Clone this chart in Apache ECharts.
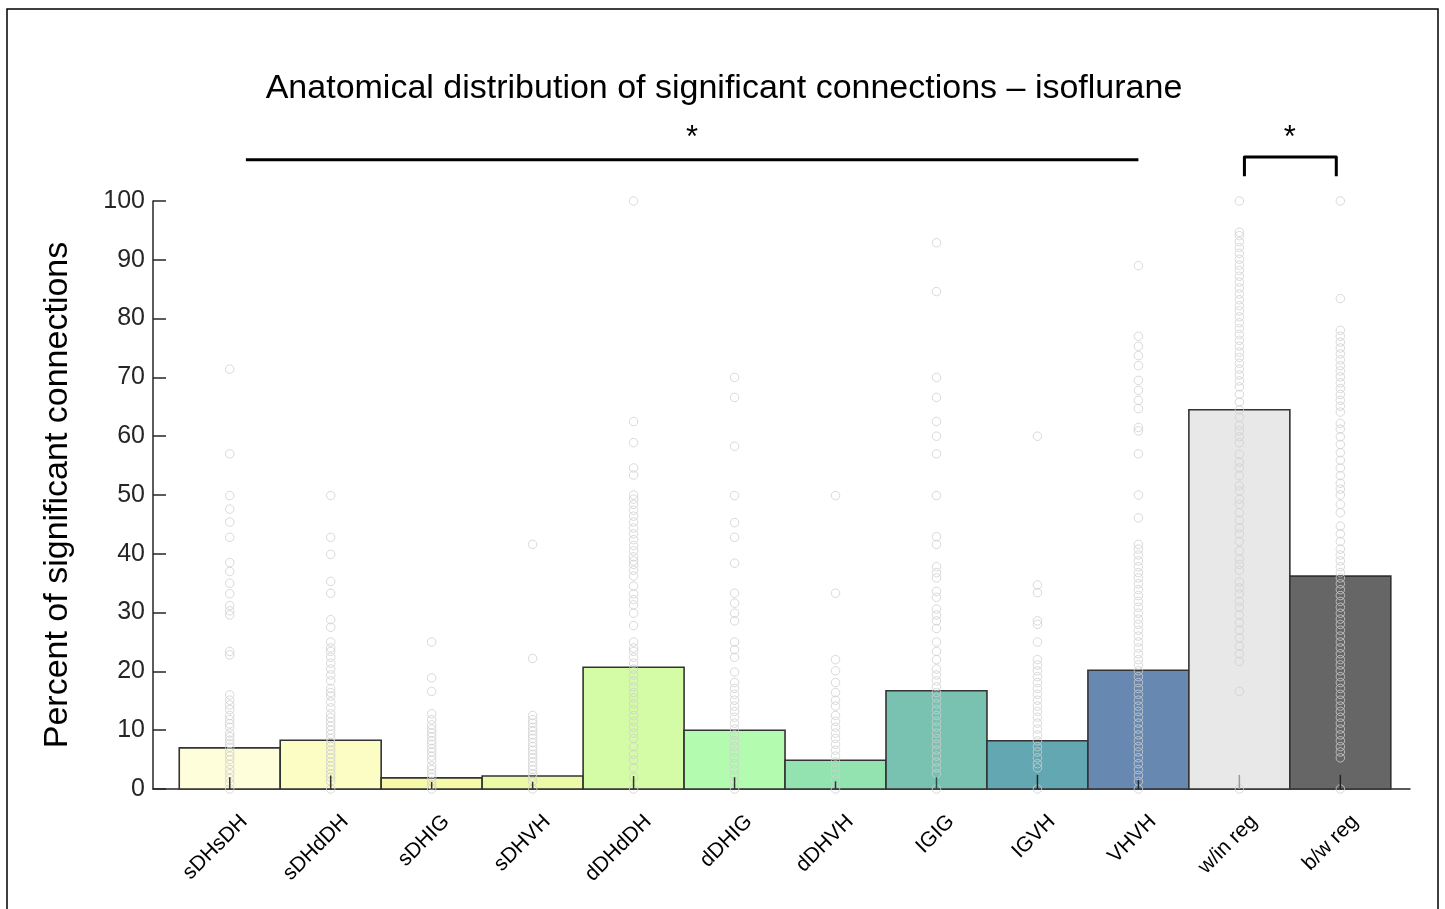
<!DOCTYPE html>
<html><head><meta charset="utf-8">
<script src="https://cdn.jsdelivr.net/npm/echarts@6/dist/echarts.min.js"></script>
<style>html,body{margin:0;padding:0;background:#fff}#c{width:1445px;height:909px}</style>
</head><body><div id="c"></div>
<script>
const categories = ['sDHsDH','sDHdDH','sDHIG','sDHVH','dDHdDH','dDHIG','dDHVH','IGIG','IGVH','VHVH','w/in reg','b/w reg'];
const barValues = [7.0, 8.3, 1.9, 2.2, 20.7, 10.0, 4.9, 16.7, 8.2, 20.2, 64.5, 36.2];
const barColors = ['#FEFEDB','#FCFDC4','#F6FAA8','#ECF9A6','#D4FCA7','#B3FBAF','#93E3B0','#79C2B1','#62A7B1','#6789B1','#E8E8E8','#666666'];
const errHigh = [2.0, 2.3, 1.2, 1.2, 2.2, 2.0, 1.3, 2.0, 2.4, 1.5, 2.4, 2.4];
const errColors = ['#333','#333','#333','#333','#333','#333','#333','#2d4f4a','#222','#222','#999','#222'];

const pts_sDHsDH = [71.4,57.0,49.9,47.6,45.4,42.8,38.5,37.0,35.0,33.2,31.2,30.3,29.6,23.4,22.8,16.0,15.1,14.3,13.5,12.5,11.8,11.1,10.5,9.5,8.9,8.3,7.7,7.1,6.3,5.6,5.0,4.2,3.3,2.6,1.8,1.0,0];
const pts_sDHdDH = [49.9,42.8,39.9,35.3,33.3,28.8,27.5,25.0,24.0,23.4,22.4,21.4,20.4,19.4,18.4,17.1,16.4,15.8,14.8,13.8,12.8,12.1,11.4,10.7,10.0,9.3,8.6,7.9,7.3,6.6,5.9,5.3,4.6,3.9,3.3,2.6,2.0,1.3,0];
const pts_sDHIG = [25.0,18.9,16.6,12.8,11.8,10.9,10.2,9.5,8.9,8.2,7.6,6.9,6.3,5.6,4.9,3.9,3.3,2.6,2.0,1.3,0.7,0];
const pts_sDHVH = [41.6,22.2,12.5,11.8,11.2,10.5,9.9,9.2,8.6,7.9,7.2,6.6,5.9,5.3,4.6,3.9,3.3,2.6,2.0,1.3,0];
const pts_dDHdDH = [100,62.5,58.9,54.6,53.4,50.0,49.3,48.4,47.4,46.4,45.4,44.4,43.4,42.4,41.4,40.5,39.5,38.8,38.2,37.2,36.2,34.5,33.2,32.2,31.3,29.9,27.8,25.0,24.0,23.4,22.4,21.4,20.4,19.4,18.4,17.4,16.4,15.5,14.5,13.5,12.5,11.5,10.5,9.5,8.6,7.2,5.9,4.9,3.6,2.0,0];
const pts_dDHIG = [70.0,66.6,58.3,49.9,45.3,42.8,38.4,33.3,31.6,29.9,28.6,25.0,23.7,22.4,19.9,18.1,17.1,16.1,15.1,14.1,13.2,12.2,11.2,10.2,9.2,8.2,7.2,6.3,5.3,4.3,3.3,2.3,1.3,0];
const pts_dDHVH = [49.9,33.3,22.0,20.1,18.1,16.4,15.1,14.1,12.5,11.5,10.5,9.5,8.6,7.6,6.6,5.6,4.6,3.6,2.6,1.6,0];
const pts_IGIG = [92.9,84.6,70.0,66.6,62.5,60.0,57.0,49.9,42.9,41.6,37.8,36.8,35.9,33.6,32.6,30.6,29.6,28.6,27.3,25.0,23.4,22.0,20.4,19.4,18.4,17.4,16.4,15.5,14.5,13.5,12.5,11.5,10.5,9.5,8.6,7.6,6.6,5.6,4.6,3.6,2.6,0];
const pts_IGVH = [60.0,34.7,33.4,28.6,28.0,25.0,22.0,21.1,20.1,19.1,18.1,17.1,16.1,15.1,14.1,13.2,12.2,11.2,10.2,9.2,8.2,7.2,6.3,5.3,4.3,3.6,0];
const pts_VHVH = [89.0,77.0,75.3,73.7,72.0,69.5,67.8,66.1,64.7,61.5,60.9,57.0,50.0,46.1,41.6,40.8,39.8,38.8,37.8,36.8,35.9,34.9,33.9,32.9,31.9,30.9,29.9,28.9,28.0,27.0,26.0,25.0,24.0,23.0,22.0,21.1,20.1,19.1,18.1,17.1,16.1,15.1,14.1,13.2,12.2,11.2,10.2,9.2,8.2,7.2,6.3,5.3,4.3,3.3,2.3,1.3,0];
const pts_withinReg = [100,94.7,94.1,93.1,92.1,91.1,90.1,89.1,88.2,87.2,86.2,85.2,84.2,83.2,82.2,81.3,80.3,79.3,78.3,77.3,76.3,75.3,74.3,73.4,72.4,71.4,70.4,69.4,68.4,67.1,65.8,64.5,63.2,61.8,60.9,59.9,58.9,56.9,55.6,54.6,53.3,51.6,50.7,49.3,48.4,47.0,45.7,44.4,43.4,42.1,40.5,39.1,38.2,37.2,35.2,34.2,33.2,31.9,30.9,29.6,28.3,27.0,25.7,24.3,23.0,21.7,16.6,0];
const pts_betweenReg = [100,83.4,78.0,77.0,76.0,75.0,74.0,73.0,72.0,71.1,70.1,69.1,68.1,67.1,66.1,65.1,64.1,62.2,61.2,59.9,58.6,57.2,55.9,54.6,53.3,52.0,51.0,50.0,48.4,47.0,44.7,43.4,42.1,40.8,39.8,38.8,37.8,36.8,35.9,34.9,33.9,32.9,31.9,30.9,29.9,28.9,28.0,27.0,26.0,25.0,24.0,23.0,22.0,21.1,20.1,19.1,18.1,17.1,16.1,15.1,14.1,13.2,12.2,11.2,10.2,9.2,8.2,7.2,6.3,5.3,0];

// significance annotations (data coords: x = category position, y = percent)
const sigLine = [1.16, 10.0, 107];               // x1, x2, y
const sigBracket = [11.05, 11.96, 107.5, 104.2]; // x1, x2, yTop, yLeg
const sigStars = [[5.58, 110.6], [11.5, 110.6]];

const allPts = [pts_sDHsDH, pts_sDHdDH, pts_sDHIG, pts_sDHVH, pts_dDHdDH, pts_dDHIG, pts_dDHVH, pts_IGIG, pts_IGVH, pts_VHVH, pts_withinReg, pts_betweenReg];
const scatterData = [];
allPts.forEach((arr, i) => arr.forEach(v => scatterData.push([i + 1, v])));
const LABEL_SHIFT = 0.07; // rotated labels sit slightly right of their tick, as in the original
const labelPos = categories.map((c, i) => i + 1 + LABEL_SHIFT);

const FONT = 'Liberation Sans, Arial, Helvetica, sans-serif';
const chart = echarts.init(document.getElementById('c'));
chart.setOption({
  animation: false,
  backgroundColor: '#fff',
  textStyle: { fontFamily: FONT },
  title: {
    text: 'Anatomical distribution of significant connections \u2013 isoflurane',
    left: 719, textAlign: 'center', top: 67,
    textStyle: { fontSize: 34, fontWeight: 'normal', color: '#000', fontFamily: FONT }
  },
  graphic: [{
    type: 'rect', silent: true, z: 100,
    shape: { x: 7, y: 9, width: 1431, height: 920 },
    style: { fill: 'none', stroke: '#000', lineWidth: 1.5 }
  }],
  grid: { left: 153, right: 35, top: 201, bottom: 120, containLabel: false },
  xAxis: {
    type: 'value', min: 0.24, max: 12.69,
    splitLine: { show: false },
    axisLine: { show: true, onZero: false, lineStyle: { color: '#262626', width: 1.5 } },
    axisTick: { show: false },
    axisLabel: {
      customValues: labelPos,
      formatter: v => categories[Math.round(v) - 1],
      rotate: 45, fontSize: 21, color: '#000', margin: 22,
      align: 'right', verticalAlign: 'top'
    }
  },
  yAxis: {
    type: 'value', min: 0, max: 100, interval: 10,
    splitLine: { show: false },
    axisLine: { show: true, lineStyle: { color: '#262626', width: 1.5 } },
    axisTick: { show: true, inside: true, length: 13, lineStyle: { color: '#262626', width: 1.5 } },
    axisLabel: { fontSize: 25, color: '#262626', margin: 8 },
    name: 'Percent of significant connections',
    nameLocation: 'middle', nameGap: 78,
    nameTextStyle: { fontSize: 34, color: '#000' }
  },
  series: [
    {
      type: 'custom', name: 'bars', z: 2,
      data: barValues.map((v, i) => [i + 1, v]),
      encode: { x: 0, y: 1 },
      renderItem: (params, api) => {
        const x = api.value(0), v = api.value(1);
        const p0 = api.coord([x - 0.5, v]);
        const p1 = api.coord([x + 0.5, 0]);
        return {
          type: 'rect',
          shape: { x: p0[0], y: p0[1], width: p1[0] - p0[0], height: p1[1] - p0[1] },
          style: { fill: barColors[params.dataIndex], stroke: '#333', lineWidth: 1.6 }
        };
      }
    },
    {
      type: 'scatter', name: 'points', z: 3, silent: true,
      data: scatterData,
      symbol: 'circle', symbolSize: 8.5,
      itemStyle: { color: 'rgba(255,255,255,0)', borderColor: '#d0d0d0', borderWidth: 1 }
    },
    {
      type: 'custom', name: 'err', z: 4,
      data: errHigh.map((h, i) => [i + 1, 0, h]),
      encode: { x: 0, y: [1, 2] },
      renderItem: (params, api) => {
        const a = api.coord([api.value(0), api.value(1)]);
        const b = api.coord([api.value(0), api.value(2)]);
        return { type: 'line', shape: { x1: a[0], y1: a[1], x2: b[0], y2: b[1] },
          style: { stroke: errColors[params.dataIndex], lineWidth: 1.5 } };
      }
    },
    {
      type: 'custom', name: 'sig', z: 5, clip: false, silent: true,
      data: [0],
      renderItem: (params, api) => {
        const l1 = api.coord([sigLine[0], sigLine[2]]);
        const l2 = api.coord([sigLine[1], sigLine[2]]);
        const b1 = api.coord([sigBracket[0], sigBracket[3]]);
        const b2 = api.coord([sigBracket[0], sigBracket[2]]);
        const b3 = api.coord([sigBracket[1], sigBracket[2]]);
        const b4 = api.coord([sigBracket[1], sigBracket[3]]);
        const children = [
          { type: 'line', shape: { x1: l1[0], y1: l1[1], x2: l2[0], y2: l2[1] }, style: { stroke: '#000', lineWidth: 3 } },
          { type: 'polyline', shape: { points: [b1, b2, b3, b4] }, style: { stroke: '#000', lineWidth: 3, fill: 'none', lineJoin: 'round' } }
        ];
        sigStars.forEach(s => {
          const p = api.coord(s);
          children.push({ type: 'text', x: p[0], y: p[1],
            style: { text: '*', fontSize: 31, fontFamily: FONT, fill: '#000', align: 'center', verticalAlign: 'middle' } });
        });
        return { type: 'group', children };
      }
    }
  ]
});
</script>
</body></html>
